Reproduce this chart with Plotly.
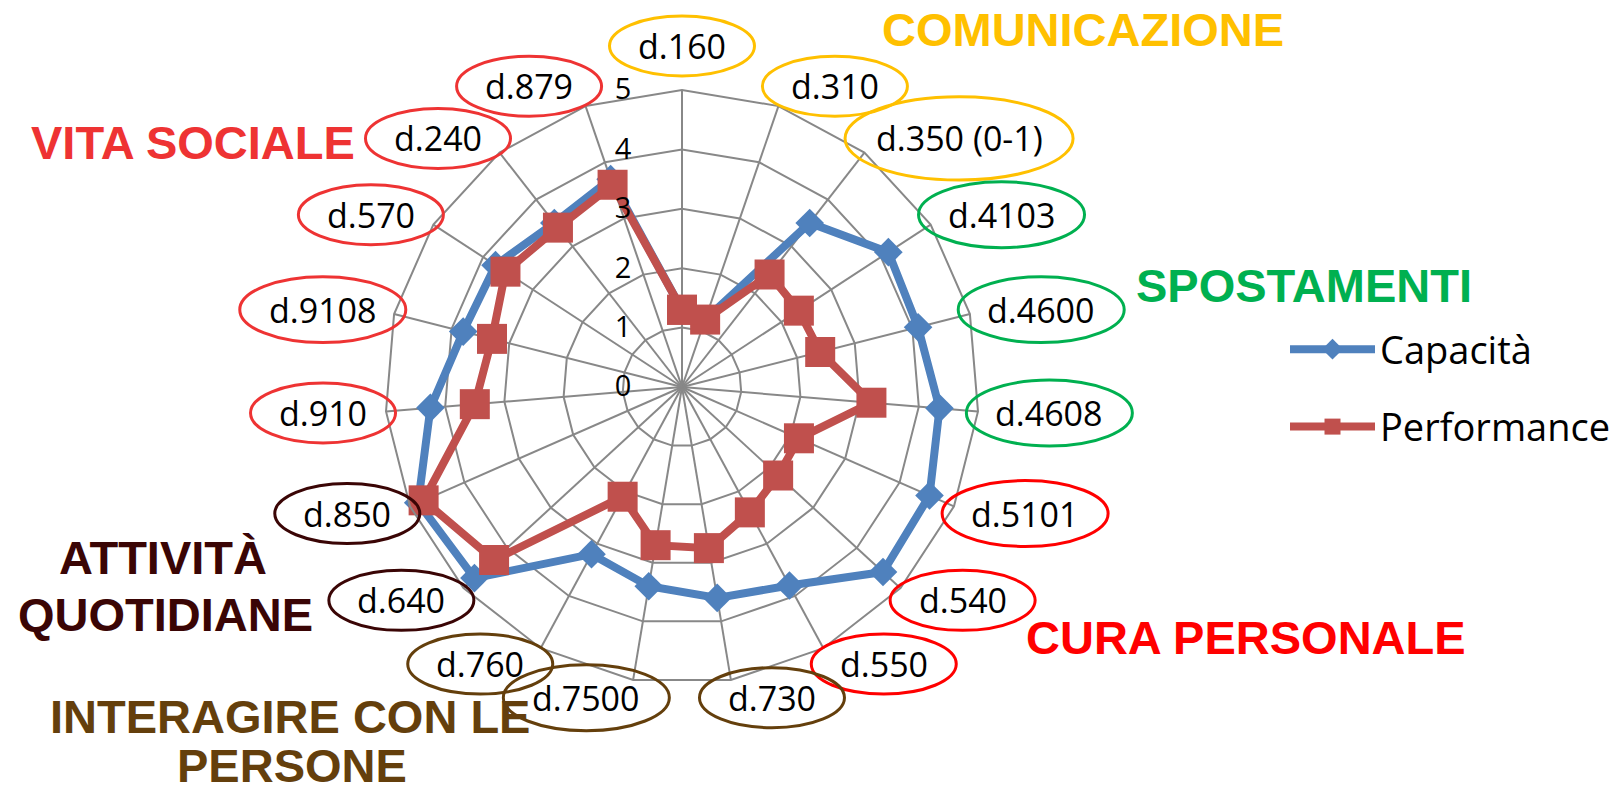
import math
import plotly.graph_objects as go

# ---------------- data ----------------
categories = ["d.160", "d.310", "d.350 (0-1)", "d.4103", "d.4600", "d.4608",
              "d.5101", "d.540", "d.550", "d.730", "d.7500", "d.760",
              "d.640", "d.850", "d.910", "d.9108", "d.570", "d.240", "d.879"]
capacita = [1.3, 1.2, 3.5, 4.15, 4.1, 4.35, 4.55, 4.6, 3.8, 3.6, 3.4, 3.2,
            4.75, 4.85, 4.25, 3.8, 3.75, 3.5, 3.7]
performance = [1.3, 1.2, 2.4, 2.35, 2.4, 3.2, 2.15, 2.2, 2.4, 2.75, 2.7, 2.1,
               4.3, 4.75, 3.5, 3.3, 3.55, 3.4, 3.6]
radial_ticks = [0, 1, 2, 3, 4, 5]

group_titles = ["COMUNICAZIONE", "SPOSTAMENTI", "CURA PERSONALE",
                "INTERAGIRE CON LE", "PERSONE", "ATTIVITÀ", "QUOTIDIANE", "VITA SOCIALE"]
group_colors = ["#FFC000", "#00B050", "#FF0000", "#643F0C", "#3A0505", "#EE3333"]
title_group = [0, 1, 2, 3, 3, 4, 4, 5]
label_group = [0, 0, 0, 1, 1, 1, 2, 2, 2, 3, 3, 3, 4, 4, 5, 5, 5, 5, 5]

# ---------------- layout constants ----------------
W, H = 1621, 795
CX, CY, R = 682, 387, 297          # polar centre / radius in px
BLUE, RED = "#4F81BD", "#C0504D"
GRID = "#888888"
LABEL_FONT = "Open Sans"


def px_x(x):
    return x / W


def px_y(y):
    return 1 - y / H


def ref_width(s):
    w = 0
    for ch in s:
        if ch in ".":
            w += 11
        elif ch == " ":
            w += 8
        elif ch in "()-":
            w += 11
        else:
            w += 21
    return w


fig = go.Figure()

theta_closed = categories + [categories[0]]
fig.add_trace(go.Scatterpolar(
    r=capacita + [capacita[0]], theta=theta_closed, name="Capacità",
    mode="lines+markers", legendgroup="a",
    line=dict(color=BLUE, width=8),
    marker=dict(symbol="diamond", size=22, color=BLUE),
))
fig.add_trace(go.Scatterpolar(
    r=performance + [performance[0]], theta=theta_closed, name="Performance",
    mode="lines+markers", legendgroup="b",
    line=dict(color=RED, width=8),
    marker=dict(symbol="square", size=30, color=RED),
))

# category labels with ellipses
n = len(categories)
shapes = []
annotations = []
for i, lab in enumerate(categories):
    th = math.radians(i * 360.0 / n)
    s, c = math.sin(th), math.cos(th)
    w = ref_width(lab)
    hoff = 0.4 * w + 22
    dx = 300 * s + hoff * math.tanh(5 * s)
    dy = 315 * c + 26 * max(c, 0) ** 40
    x, y = CX + dx, CY - dy
    ew = max(145, w + 50)
    eh = 60 + (ew - 145) * 0.28
    col = group_colors[label_group[i]]
    shapes.append(dict(type="circle", xref="paper", yref="paper",
                       x0=px_x(x - ew / 2), x1=px_x(x + ew / 2),
                       y0=px_y(y + eh / 2), y1=px_y(y - eh / 2),
                       line=dict(color=col, width=3), layer="above"))
    annotations.append(dict(text=lab, x=px_x(x), y=px_y(y), xref="paper", yref="paper",
                            xanchor="center", yanchor="middle", showarrow=False,
                            font=dict(family=LABEL_FONT, size=34, color="#000000")))

# group titles
title_pos = [(1083, 30), (1304, 286), (1246, 637), (290, 716), (292, 765),
             (163, 557), (165, 614), (193, 143)]
for t, (x, y), g in zip(group_titles, title_pos, title_group):
    annotations.append(dict(text=t, x=px_x(x), y=px_y(y), xref="paper", yref="paper",
                            xanchor="center", yanchor="middle", showarrow=False,
                            font=dict(family="Liberation Sans", size=47,
                                      color=group_colors[g], weight="bold")))

fig.update_layout(
    width=W, height=H,
    margin=dict(l=0, r=0, t=0, b=0),
    paper_bgcolor="white",
    polar=dict(
        domain=dict(x=[px_x(CX - R), px_x(CX + R)], y=[px_y(CY + R), px_y(CY - R)]),
        bgcolor="white",
        gridshape="linear",
        angularaxis=dict(rotation=90, direction="clockwise", showticklabels=False,
                         ticks="", gridcolor=GRID, gridwidth=2,
                         showline=True, linecolor=GRID, linewidth=2),
        radialaxis=dict(range=[0, 5], tickvals=radial_ticks, angle=90,
                        side="counterclockwise", tickangle=90,
                        showline=False, gridcolor=GRID, gridwidth=2,
                        ticks="outside", ticklen=40, tickcolor="rgba(0,0,0,0)",
                        tickfont=dict(family=LABEL_FONT, size=29, color="#000000")),
    ),
    showlegend=True,
    legend=dict(x=px_x(1285), y=px_y(318), xanchor="left", yanchor="top",
                font=dict(family=LABEL_FONT, size=38, color="#000000"),
                itemwidth=85, traceorder="grouped", tracegroupgap=25,
                bgcolor="rgba(0,0,0,0)"),
    shapes=shapes,
    annotations=annotations,
)

fig.write_html("out.html", config={"displayModeBar": False},
               post_script="document.body.style.margin='0';document.body.style.overflow='hidden';")
